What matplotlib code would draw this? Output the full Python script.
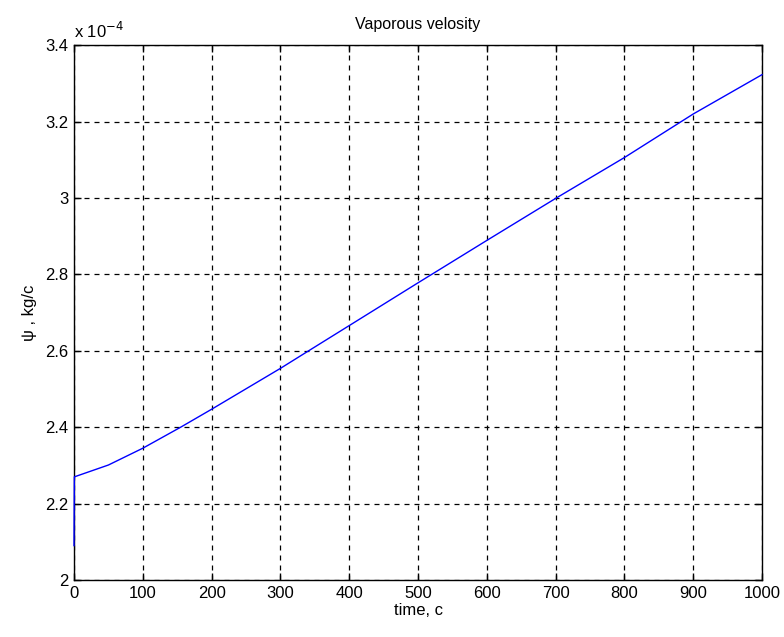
import matplotlib

matplotlib.use("Agg")
import matplotlib.pyplot as plt

# time (c) and vapour flow (x 1e-4 kg/c)
TIME = [0, 0.5, 50, 100, 155, 200, 300, 341, 400, 500, 600, 700, 800, 900, 1000]
PSI = [2.09, 2.27, 2.301, 2.345, 2.40, 2.447, 2.554, 2.60, 2.666, 2.778,
       2.889, 2.999, 3.106, 3.22, 3.323]

X_TICKS = list(range(0, 1001, 100))
Y_TICKS = [2, 2.2, 2.4, 2.6, 2.8, 3, 3.2, 3.4]
Y_LABELS = ["2", "2.2", "2.4", "2.6", "2.8", "3", "3.2", "3.4"]

plt.rcParams["font.family"] = ["Liberation Sans", "DejaVu Sans"]

fig = plt.figure(figsize=(7.84, 6.37), dpi=100)
ax = fig.add_axes([0.0944, 0.0895, 0.8776, 0.8395])

ax.plot(TIME, PSI, color="#0000ff", lw=1.0, zorder=3, clip_on=False)

ax.set_xlim(0, 1000)
ax.set_ylim(2, 3.4)
ax.set_xticks(X_TICKS)
ax.set_yticks(Y_TICKS)
ax.set_yticklabels(Y_LABELS)
ax.tick_params(direction="in", top=True, right=True, labelsize=12,
               length=5, width=1, pad=4)
ax.grid(True, color="black", linestyle=(0, (4, 4)), linewidth=0.9)
for sp in ax.spines.values():
    sp.set_linewidth(1.0)

ax.set_title("Vaporous velosity", fontsize=11.5, pad=12)
ax.set_xlabel("time, c", fontsize=12, labelpad=2)
ax.set_ylabel("ψ , kg/c", fontsize=12, labelpad=6)
ax.text(0.0, 1.008, "x 10$^{-4}$", transform=ax.transAxes, fontsize=12,
        ha="left", va="bottom")

fig.savefig("out.png", dpi=100)
